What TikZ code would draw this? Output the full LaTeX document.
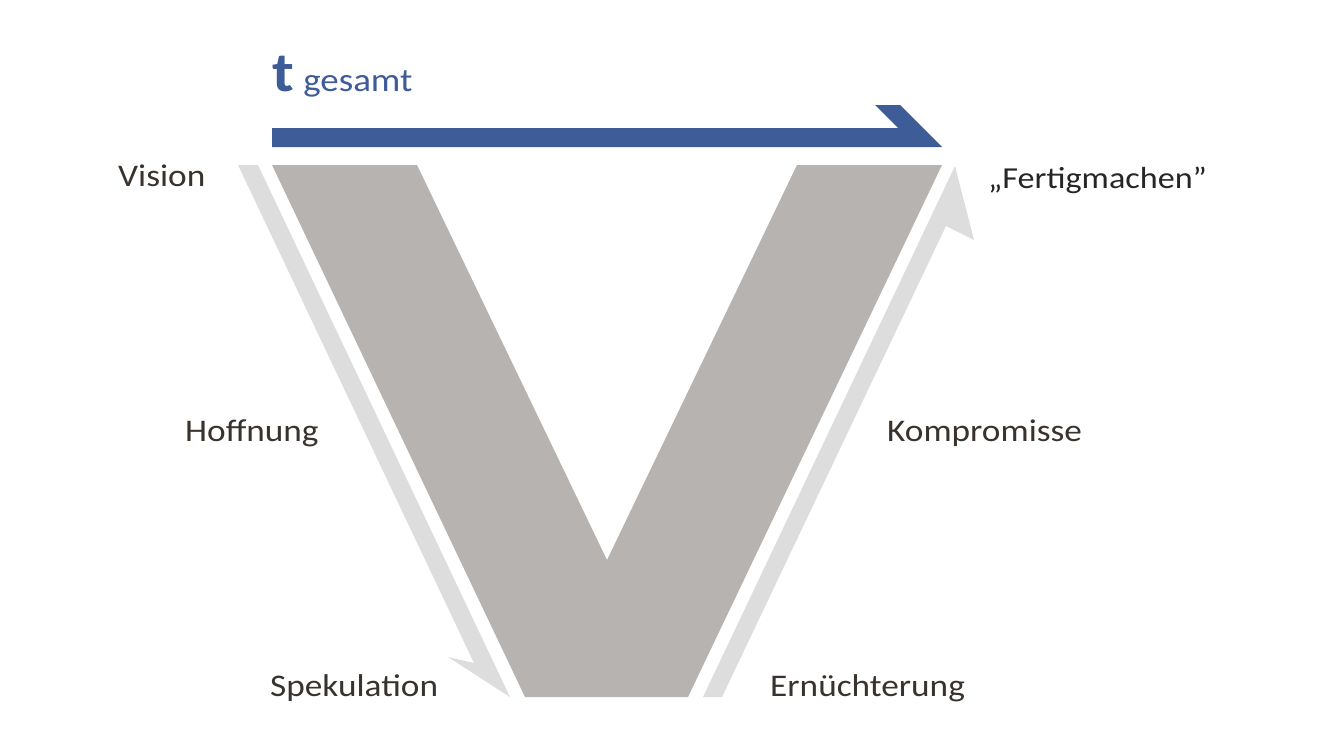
\documentclass[tikz,border=0pt]{standalone}
\usepackage{fontspec}
\setmainfont{Carlito}[FakeStretch=1.12]
\definecolor{vgray}{HTML}{B6B3B0}
\definecolor{lgray}{HTML}{DDDDDD}
\definecolor{tblue}{HTML}{3E5C98}
\definecolor{txt}{HTML}{3A332D}
\begin{document}
\begin{tikzpicture}[x=1pt,y=-1pt,
  lbl/.style={anchor=base west, inner sep=0pt, text=txt, font=\fontsize{31.5}{33}\selectfont}]
\useasboundingbox (0,0) rectangle (1320,742);
\fill[white] (0,0) rectangle (1320,742);
% V shape
\fill[vgray] (272,165) -- (417,165) -- (607,560) -- (797,165) -- (942,165) -- (688,697) -- (525,697) -- cycle;
% left light arrow (downwards)
\fill[lgray] (238,165) -- (258,165) -- (510,697) -- (448,657) -- (474,663) -- cycle;
% right light arrow (upwards)
\fill[lgray] (703,697) -- (722,697) -- (946,226) -- (974,240) -- (955,166) -- cycle;
% blue time arrow
\fill[tblue] (272,128) -- (898,128) -- (875,105) -- (900,105) -- (942,147) -- (272,147) -- cycle;
% texts
\node[anchor=base west, inner sep=0pt, text=tblue] (tg) at (272,91)
  {\fontsize{56}{56}\selectfont\bfseries t\,\fontsize{33}{33}\selectfont\mdseries gesamt};
\node[lbl] (vision) at (118,186) {Vision};
\node[lbl] (hoff) at (185,441) {Hoffnung};
\node[lbl] (spek) at (270,696) {Spekulation};
\node[lbl] (ern) at (770,696) {Ernüchterung};
\node[lbl] (komp) at (887,441) {Kompromisse};
\node[lbl, text=black!85, font=\fontsize{30.5}{32}\selectfont] (fert) at (988,188) {„Fertigmachen”};
\end{tikzpicture}
\end{document}
